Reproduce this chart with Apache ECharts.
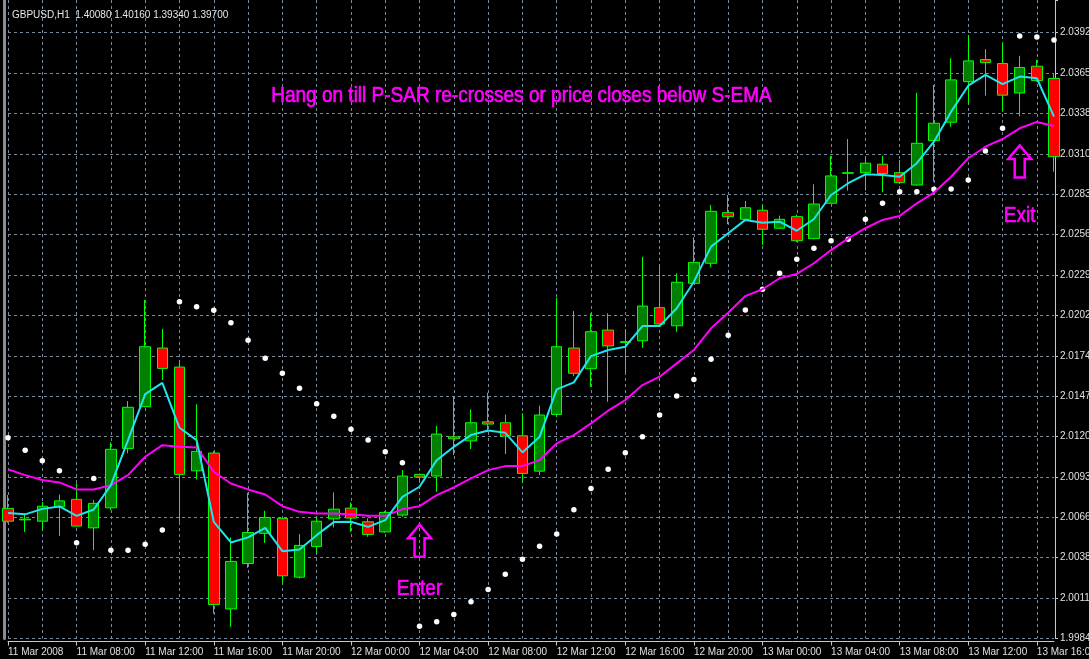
<!DOCTYPE html>
<html>
<head>
    <meta charset="utf-8">
    <script src="https://cdn.jsdelivr.net/npm/echarts@6/dist/echarts.min.js"></script>
    <style>
        html, body { margin: 0; padding: 0; background: #000; }
        #main { width: 1089px; height: 659px; }
    </style>
</head>
<body>
    <div id="main"></div>
    <script type="text/javascript">
        // GBPUSD H1, 11-13 Mar 2008
        var tickLabels = ['11 Mar 2008', '11 Mar 08:00', '11 Mar 12:00', '11 Mar 16:00', '11 Mar 20:00',
            '12 Mar 00:00', '12 Mar 04:00', '12 Mar 08:00', '12 Mar 12:00', '12 Mar 16:00', '12 Mar 20:00',
            '13 Mar 00:00', '13 Mar 04:00', '13 Mar 08:00', '13 Mar 12:00', '13 Mar 16:00'];

        var opens = [2.00716, 2.00644, 2.00630, 2.00727, 2.00777, 2.00585, 2.00720, 2.01120, 2.01401, 2.01796,
            2.01668, 2.00969, 2.01089, 2.00039, 2.00345, 2.00548, 2.00649, 2.00253, 2.00460, 2.00646,
            2.00718, 2.00626, 2.00558, 2.00671, 2.00945, 2.00934, 2.01198, 2.01171, 2.01299, 2.01293,
            2.01205, 2.00967, 2.01349, 2.01796, 2.01657, 2.01917, 2.01834, 2.01845, 2.02068, 2.01946,
            2.02232, 2.02367, 2.02708, 2.02663, 2.02724, 2.02603, 2.02681, 2.02533, 2.02771, 2.02973,
            2.02977, 2.03034, 2.02977, 2.02894, 2.03193, 2.03317, 2.03590, 2.03739, 2.03712, 2.03514,
            2.03694, 2.03611];
        var closes = [2.00630, 2.00639, 2.00731, 2.00767, 2.00597, 2.00750, 2.01114, 2.01397, 2.01805, 2.01659,
            2.00945, 2.01100, 2.00069, 2.00359, 2.00554, 2.00655, 2.00262, 2.00467, 2.00630, 2.00711,
            2.00651, 2.00541, 2.00689, 2.00934, 2.00927, 2.01217, 2.01185, 2.01293, 2.01284, 2.01203,
            2.00952, 2.01345, 2.01805, 2.01626, 2.01906, 2.01810, 2.01839, 2.02079, 2.01958, 2.02239,
            2.02373, 2.02717, 2.02681, 2.02741, 2.02596, 2.02663, 2.02519, 2.02766, 2.02955, 2.02977,
            2.03041, 2.02971, 2.02910, 2.03175, 2.03310, 2.03602, 2.03730, 2.03718, 2.03499, 2.03685,
            2.03597, 2.03085];
        var highs = [2.00806, 2.00682, 2.00760, 2.00810, 2.00884, 2.00772, 2.01161, 2.01439, 2.02120, 2.01926,
            2.01715, 2.01417, 2.01102, 2.00521, 2.00821, 2.00700, 2.00659, 2.00543, 2.00659, 2.00824,
            2.00756, 2.00649, 2.00698, 2.00974, 2.00952, 2.01271, 2.01473, 2.01383, 2.01495, 2.01349,
            2.01356, 2.01407, 2.02135, 2.02045, 2.02030, 2.02030, 2.01924, 2.02411, 2.02355, 2.02299,
            2.02542, 2.02760, 2.02827, 2.02787, 2.02760, 2.02688, 2.02695, 2.02899, 2.03090, 2.03204,
            2.03076, 2.03090, 2.03063, 2.03516, 2.03568, 2.03748, 2.03905, 2.03809, 2.03853, 2.03764,
            2.03737, 2.03642];
        var lows = [2.00619, 2.00558, 2.00574, 2.00531, 2.00592, 2.00435, 2.00705, 2.01087, 2.01397, 2.01580,
            2.00626, 2.00911, 2.00008, 1.99918, 2.00316, 2.00484, 2.00215, 2.00244, 2.00417, 2.00588,
            2.00558, 2.00525, 2.00552, 2.00660, 2.00907, 2.00828, 2.01075, 2.01116, 2.01232, 2.01082,
            2.00891, 2.00940, 2.01333, 2.01607, 2.01535, 2.01434, 2.01632, 2.01798, 2.01944, 2.01906,
            2.02227, 2.02340, 2.02630, 2.02659, 2.02490, 2.02598, 2.02510, 2.02529, 2.02766, 2.02856,
            2.02856, 2.02845, 2.02901, 2.02890, 2.02917, 2.03287, 2.03445, 2.03496, 2.03388, 2.03357,
            2.03590, 2.02984];

        // fast EMA (cyan)
        var fastEma = [2.00686, 2.00676, 2.00713, 2.00729, 2.00666, 2.00709, 2.00873, 2.01176, 2.01486, 2.01562,
            2.01259, 2.01176, 2.00626, 2.00487, 2.00521, 2.00585, 2.00428, 2.00440, 2.00536, 2.00624,
            2.00626, 2.00592, 2.00637, 2.00794, 2.00862, 2.01041, 2.01131, 2.01210, 2.01241, 2.01225,
            2.01093, 2.01198, 2.01518, 2.01565, 2.01742, 2.01783, 2.01805, 2.01944, 2.01944, 2.02064,
            2.02243, 2.02479, 2.02569, 2.02659, 2.02640, 2.02647, 2.02586, 2.02665, 2.02827, 2.02906,
            2.02966, 2.02962, 2.02950, 2.03041, 2.03186, 2.03388, 2.03563, 2.03636, 2.03573, 2.03624,
            2.03613, 2.03355];
        // slow EMA (magenta)
        var slowEma = [2.00979, 2.00940, 2.00907, 2.00891, 2.00844, 2.00844, 2.00873, 2.00940, 2.01064, 2.01142,
            2.01131, 2.01127, 2.00963, 2.00884, 2.00844, 2.00810, 2.00731, 2.00693, 2.00682, 2.00682,
            2.00676, 2.00666, 2.00666, 2.00711, 2.00731, 2.00806, 2.00857, 2.00918, 2.00974, 2.01001,
            2.01001, 2.01041, 2.01154, 2.01210, 2.01289, 2.01374, 2.01446, 2.01547, 2.01603, 2.01693,
            2.01783, 2.01929, 2.02034, 2.02146, 2.02192, 2.02266, 2.02295, 2.02367, 2.02456, 2.02535,
            2.02603, 2.02659, 2.02686, 2.02771, 2.02843, 2.02950, 2.03074, 2.03152, 2.03204, 2.03276,
            2.03319, 2.03292];
        // parabolic SAR dots
        var psar = [2.01192, 2.01107, 2.01037, 2.00969, 2.00484, 2.00918, 2.00435, 2.00435, 2.00475, 2.00570,
            2.02108, 2.02074, 2.02050, 2.01967, 2.01848, 2.01727, 2.01626, 2.01525, 2.01421, 2.01336,
            2.01250, 2.01176, 2.01097, 2.01023, 1.99923, 1.99952, 2.00002, 2.00087, 2.00170, 2.00273,
            2.00374, 2.00462, 2.00543, 2.00707, 2.00851, 2.00979, 2.01091, 2.01198, 2.01345, 2.01473,
            2.01585, 2.01720, 2.01882, 2.02052, 2.02192, 2.02299, 2.02394, 2.02468, 2.02519, 2.02529,
            2.02663, 2.02771, 2.02849, 2.02849, 2.02865, 2.02867, 2.02928, 2.03123, 2.03276, 2.03898,
            2.03890, 2.03871];

        var priceMin = 1.9984, priceMax = 2.0414, priceStep = 0.00272;

        // hourly bars starting 11 Mar 04:00
        var bars = [];
        for (var i = 0; i < opens.length; i++) {
            var h = 4 + i;
            var hh = h % 24;
            bars.push((11 + Math.floor(h / 24)) + ' Mar ' + (hh < 10 ? '0' : '') + hh + ':00');
        }

        var ohlc = [];
        for (var i = 0; i < opens.length; i++) {
            ohlc.push([opens[i], closes[i], lows[i], highs[i]]);
        }

        var gridLine = { color: '#778899', type: [3, 3], width: 1 };
        var font = 'Liberation Sans';

        var myChart = echarts.init(document.getElementById('main'));

        var option = {
            backgroundColor: '#000',
            animation: false,
            // labels are allowed to run off the window, like in the terminal
            grid: { left: 8, right: 35, top: 0, bottom: 20.5, outerBoundsMode: 'none', containLabel: false },
            xAxis: {
                type: 'category',
                data: bars,
                boundaryGap: false,
                offset: 3,
                axisLine: { show: true, lineStyle: { color: '#c8c8c8', width: 1 } },
                axisTick: { show: true, interval: 3, length: 4, lineStyle: { color: '#c8c8c8' } },
                axisLabel: {
                    interval: 3, align: 'left', margin: 6, color: '#e0e0e0', fontSize: 10, fontFamily: font,
                    formatter: function (v, idx) { return tickLabels[idx / 4] || ''; }
                },
                splitLine: { show: true, interval: 1, lineStyle: gridLine }
            },
            yAxis: [{
                type: 'value',
                position: 'right',
                offset: 1,
                min: priceMin,
                max: priceMax,
                interval: priceStep,
                scale: true,
                axisLine: { show: true, lineStyle: { color: '#c8c8c8', width: 1 } },
                axisTick: { show: true, length: 3, lineStyle: { color: '#c8c8c8' } },
                axisLabel: {
                    margin: 5, color: '#e0e0e0', fontSize: 10, fontFamily: font,
                    formatter: function (v) { return v > 2.04 ? '' : v.toFixed(4); }
                },
                splitLine: { show: true, showMaxLine: false, lineStyle: gridLine }
            }, {
                // left frame of the chart window
                type: 'value',
                position: 'left',
                offset: 3.5,
                min: priceMin,
                max: priceMax,
                axisLine: { show: true, lineStyle: { color: '#8c8c8c', width: 3 } },
                axisTick: { show: false },
                axisLabel: { show: false },
                splitLine: { show: false }
            }],
            series: [{
                name: 'GBPUSD,H1',
                type: 'candlestick',
                data: ohlc,
                barWidth: 11,
                itemStyle: {
                    color: '#008000',
                    color0: '#ff0000',
                    borderColor: '#00ff00',
                    borderColor0: '#00ff00',
                    borderColorDoji: '#00ff00',
                    borderWidth: 1
                }
            }, {
                name: 'S-EMA',
                type: 'line',
                data: slowEma,
                symbol: 'none',
                lineStyle: { color: '#ff00ff', width: 2 },
                itemStyle: { color: '#ff00ff' }
            }, {
                name: 'EMA',
                type: 'line',
                data: fastEma,
                symbol: 'none',
                lineStyle: { color: '#1ee6ec', width: 2 },
                itemStyle: { color: '#1ee6ec' }
            }, {
                name: 'P-SAR',
                type: 'scatter',
                data: psar,
                symbol: 'circle',
                symbolSize: 5.5,
                itemStyle: { color: '#ffffff', opacity: 1 }
            }]
        };

        myChart.setOption(option);

        // annotations, placed in data space (bar index, price)
        var notes = [
            { kind: 'arrow', at: [24, 2.00499] },
            { kind: 'arrow', at: [59, 2.03053] },
            { kind: 'text', at: [24, 2.00172], text: 'Enter' },
            { kind: 'text', at: [59, 2.02686], text: 'Exit' }
        ];

        var noteText = { fill: '#ff00ff', font: '19px "Liberation Sans"', align: 'center', verticalAlign: 'middle',
            stroke: '#ff00ff', lineWidth: 0.6 };

        var graphics = [{
            type: 'text',
            x: 12, y: 15,
            style: { text: 'GBPUSD,H1  1.40080 1.40160 1.39340 1.39700', fill: '#e6e6e6',
                font: '10px "Liberation Sans"', verticalAlign: 'middle' }
        }, {
            type: 'text',
            x: 521.5, y: 96,
            scaleY: 1.15,
            style: echarts.util.extend({ text: 'Hang on till P-SAR re-crosses or price closes below S-EMA' }, noteText)
        }];

        notes.forEach(function (n) {
            var p = myChart.convertToPixel({ gridIndex: 0 }, [bars[n.at[0]], n.at[1]]);
            if (n.kind === 'arrow') {
                graphics.push({
                    type: 'polygon',
                    x: p[0], y: p[1],
                    shape: { points: [[0, -16], [11.5, -2.5], [5, -2.5], [5, 16], [-5, 16], [-5, -2.5], [-11.5, -2.5]] },
                    style: { fill: 'none', stroke: '#ff00ff', lineWidth: 2.5 }
                });
            } else {
                graphics.push({
                    type: 'text',
                    x: p[0], y: p[1],
                    scaleY: 1.15,
                    style: echarts.util.extend({ text: n.text }, noteText)
                });
            }
        });

        myChart.setOption({ graphic: graphics });
    </script>
</body>
</html>
